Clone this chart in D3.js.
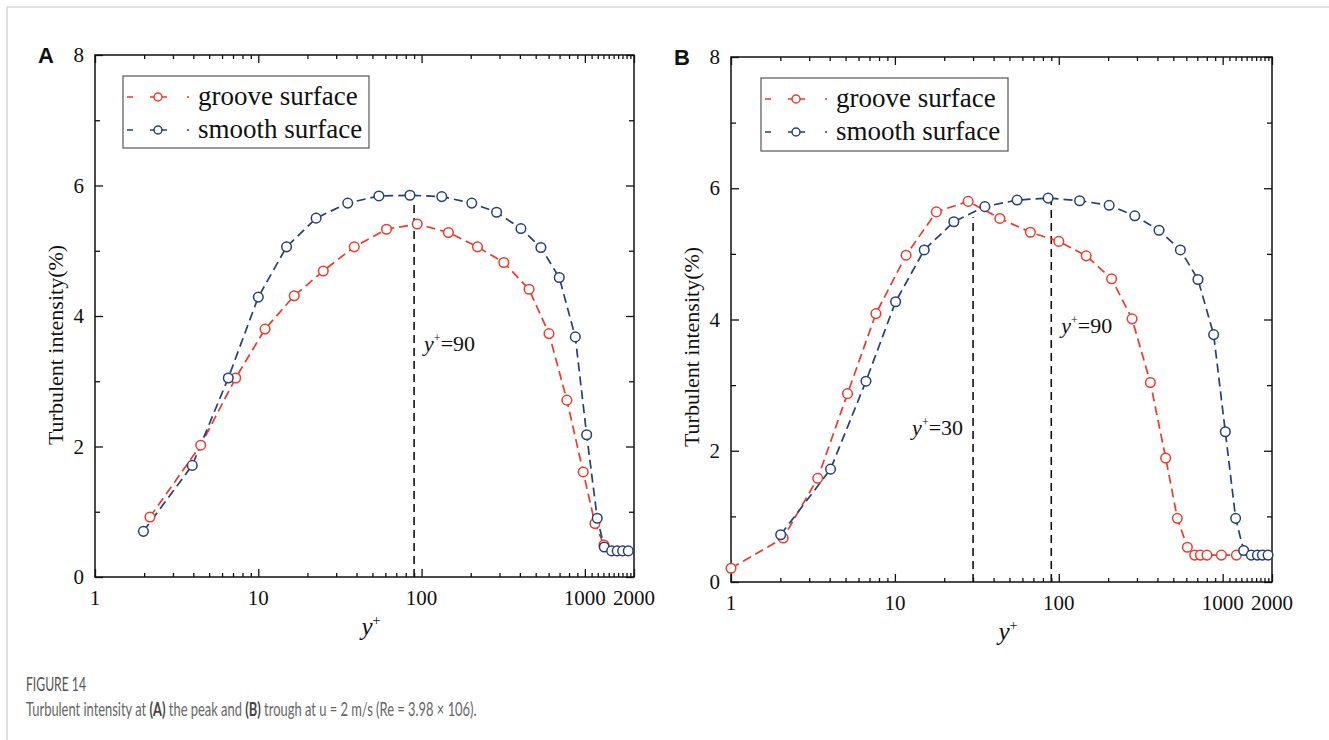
<!DOCTYPE html>
<html>
<head>
<meta charset="utf-8">
<script src="https://cdn.jsdelivr.net/npm/d3@7"></script>
<style>
  body { margin: 0; background: #fff; }
  svg text { fill: #111; }
</style>
</head>
<body>
<div id="dataviz"></div>
<script>
// data: [y+, turbulent intensity %]
var grooveA = [[2.17,0.92],[4.44,2.02],[7.27,3.05],[11.0,3.80],[16.6,4.31],[25.0,4.69],[38.7,5.06],[61,5.33],
  [94,5.41],[146,5.28],[220,5.06],[319,4.82],[455,4.41],[603,3.73],[776,2.71],[977,1.61],[1153,0.82],[1309,0.49]];
var smoothA = [[1.98,0.70],[3.94,1.71],[6.55,3.05],[10,4.29],[14.9,5.06],[22.6,5.50],[35.3,5.73],[54.8,5.84],
  [84.9,5.85],[133,5.83],[203,5.73],[288,5.59],[406,5.34],[538,5.05],[697,4.59],[874,3.68],[1026,2.18],
  [1191,0.90],[1315,0.46],[1459,0.40],[1578,0.40],[1703,0.40],[1845,0.40]];

var grooveB = [[1.0,0.21],[2.08,0.67],[3.38,1.58],[5.14,2.87],[7.66,4.09],[11.7,4.98],[17.9,5.64],[28,5.80],
  [43.7,5.54],[67.1,5.33],[100,5.19],[147,4.97],[210,4.62],[280,4.01],[362,3.04],[449,1.89],[529,0.97],
  [609,0.53],[675,0.41],[731,0.41],[802,0.41],[982,0.41],[1213,0.41]];
var smoothB = [[2.01,0.72],[4.05,1.72],[6.66,3.06],[10.1,4.27],[15.1,5.06],[22.9,5.49],[35.4,5.72],[55.7,5.82],
  [86.1,5.85],[134,5.81],[203,5.74],[291,5.58],[409,5.36],[552,5.06],[707,4.61],[881,3.77],[1038,2.29],
  [1200,0.97],[1343,0.48],[1495,0.41],[1629,0.41],[1747,0.41],[1892,0.41]];

// vertical reference lines: y+ value and height of the dashed line
var refA = [{x:90, top:5.70, label:"90", lx:90, ly:3.46, side:"right"}];
var refB = [{x:30, top:5.56, label:"30", lx:30, ly:2.24, side:"left"},
            {x:90, top:5.87, label:"90", lx:90, ly:3.80, side:"right"}];

var xTickLabels = [1, 10, 100, 1000, 2000];
var yTickLabels = [0, 2, 4, 6, 8];
var yMinorTicks = [1, 3, 5, 7];
var seriesNames = ["groove surface", "smooth surface"];
var seriesColors = ["#f0392b", "#243f7a"];

// minor log ticks (Origin style, 100-step between 1000 and 2000)
var xMinorTicks = [];
[1, 10, 100].forEach(function(d){
  for (var k = 2; k <= 9; k++) xMinorTicks.push(k*d);
});
for (var k = 11; k <= 19; k++) xMinorTicks.push(k*100);

var svg = d3.select("#dataviz").append("svg")
  .attr("width", 1329).attr("height", 740);

// page frame lines
svg.append("line").attr("x1", 7).attr("x2", 1329).attr("y1", 7).attr("y2", 7)
  .attr("stroke", "#d6d6d6").attr("stroke-width", 1.5);
svg.append("line").attr("x1", 7).attr("x2", 7).attr("y1", 7).attr("y2", 740)
  .attr("stroke", "#d6d6d6").attr("stroke-width", 1.5);

var serif = "'Liberation Serif', 'Times New Roman', serif";

function drawPanel(p) {
  var x = d3.scaleLog().domain([1, 2000]).range([p.left, p.right]);
  var y = d3.scaleLinear().domain([0, 8]).range([p.bottom, p.top]);
  var g = svg.append("g");

  // panel letter
  g.append("text").attr("x", p.left - 57).attr("y", p.top + 8)
    .attr("font-family", "'Liberation Sans', Arial, sans-serif")
    .attr("font-weight", "bold").attr("font-size", 22).text(p.label);

  // frame
  g.append("rect").attr("x", p.left).attr("y", p.top)
    .attr("width", p.right - p.left).attr("height", p.bottom - p.top)
    .attr("fill", "none").attr("stroke", "#111").attr("stroke-width", 1.5);

  // axes with inward ticks
  var axB = d3.axisBottom(x).tickValues(xTickLabels).tickSize(-8).tickFormat("");
  var axBm = d3.axisBottom(x).tickValues(xMinorTicks).tickSize(-4).tickFormat("");
  var axT = d3.axisTop(x).tickValues(xTickLabels).tickSize(-8).tickFormat("");
  var axTm = d3.axisTop(x).tickValues(xMinorTicks).tickSize(-4).tickFormat("");
  var axL = d3.axisLeft(y).tickValues(yTickLabels).tickSize(-8).tickFormat("");
  var axLm = d3.axisLeft(y).tickValues(yMinorTicks).tickSize(-5).tickFormat("");
  var axR = d3.axisRight(y).tickValues(yTickLabels).tickSize(-8).tickFormat("");
  var axRm = d3.axisRight(y).tickValues(yMinorTicks).tickSize(-5).tickFormat("");

  [[axB, "translate(0," + p.bottom + ")"], [axBm, "translate(0," + p.bottom + ")"],
   [axT, "translate(0," + p.top + ")"], [axTm, "translate(0," + p.top + ")"],
   [axL, "translate(" + p.left + ",0)"], [axLm, "translate(" + p.left + ",0)"],
   [axR, "translate(" + p.right + ",0)"], [axRm, "translate(" + p.right + ",0)"]
  ].forEach(function(a){
    var ag = g.append("g").attr("transform", a[1]).call(a[0]);
    ag.select(".domain").remove();
    ag.selectAll("line").attr("stroke", "#111").attr("stroke-width", 1.3);
  });

  // tick labels
  g.selectAll(".xlab").data(xTickLabels).enter().append("text")
    .attr("x", function(d){ return x(d); })
    .attr("y", p.bottom + 28)
    .attr("text-anchor", "middle")
    .attr("font-family", serif).attr("font-size", 21)
    .text(function(d){ return d; });
  g.selectAll(".ylab").data(yTickLabels).enter().append("text")
    .attr("x", p.left - 11)
    .attr("y", function(d){ return y(d) + 7; })
    .attr("text-anchor", "end")
    .attr("font-family", serif).attr("font-size", 21)
    .text(function(d){ return d; });

  // axis titles
  g.append("text")
    .attr("transform", "translate(" + (p.left - 32) + "," + (p.top + 290) + ") rotate(-90)")
    .attr("text-anchor", "middle")
    .attr("font-family", serif).attr("font-size", 22)
    .text("Turbulent intensity(%)");
  var xt = g.append("text")
    .attr("x", (p.left + p.right) / 2 - 3).attr("y", p.bottom + 58)
    .attr("font-family", serif).attr("font-size", 25);
  xt.append("tspan").attr("font-style", "italic").text("y");
  xt.append("tspan").attr("font-size", 14).attr("dy", -10).text("+");

  // reference dashed lines
  p.refs.forEach(function(r){
    g.append("line")
      .attr("x1", x(r.x)).attr("x2", x(r.x))
      .attr("y1", y(0)).attr("y2", y(r.top))
      .attr("stroke", "#111").attr("stroke-width", 1.6)
      .attr("stroke-dasharray", "8,5");
    var t = g.append("text")
      .attr("x", r.side === "right" ? x(r.lx) + 10 : x(r.lx) - 10)
      .attr("y", y(r.ly))
      .attr("text-anchor", r.side === "right" ? "start" : "end")
      .attr("font-family", serif).attr("font-size", 22);
    t.append("tspan").attr("font-style", "italic").text("y");
    t.append("tspan").attr("font-size", 12).attr("dy", -9).text("+");
    t.append("tspan").attr("dy", 9).text("=" + r.label);
  });

  // series
  var line = d3.line().x(function(d){ return x(d[0]); }).y(function(d){ return y(d[1]); });
  [p.groove, p.smooth].forEach(function(s, i){
    g.append("path").datum(s)
      .attr("d", line).attr("fill", "none")
      .attr("stroke", seriesColors[i]).attr("stroke-width", 1.7)
      .attr("stroke-dasharray", "9,5");
  });
  [p.groove, p.smooth].forEach(function(s, i){
    g.selectAll(".pt" + i).data(s).enter().append("circle")
      .attr("cx", function(d){ return x(d[0]); })
      .attr("cy", function(d){ return y(d[1]); })
      .attr("r", 4.8)
      .attr("fill", "#fff")
      .attr("stroke", seriesColors[i]).attr("stroke-width", 1.5);
  });

  // legend
  var lg = g.append("g").attr("transform", "translate(" + p.lx + "," + p.ly + ")");
  lg.append("rect").attr("width", p.lw).attr("height", p.lh)
    .attr("fill", "#fff").attr("stroke", "#555").attr("stroke-width", 1.2);
  seriesNames.forEach(function(name, i){
    var cy = 21 + i * 33;
    lg.append("line").attr("x1", 4).attr("x2", 67).attr("y1", cy).attr("y2", cy)
      .attr("stroke", seriesColors[i]).attr("stroke-width", 1.7)
      .attr("stroke-dasharray", "6,17,17,20,2,20");
    lg.append("circle").attr("cx", 35).attr("cy", cy).attr("r", 4)
      .attr("fill", "#fff").attr("stroke", seriesColors[i]).attr("stroke-width", 1.5);
    lg.append("text").attr("x", 75).attr("y", cy + 8)
      .attr("font-family", serif).attr("font-size", 27)
      .text(name);
  });
}

drawPanel({label:"A", left:95, right:634, top:55, bottom:577,
  groove:grooveA, smooth:smoothA, refs:refA, lx:123, ly:76, lw:246, lh:72});
drawPanel({label:"B", left:731, right:1272, top:57, bottom:582,
  groove:grooveB, smooth:smoothB, refs:refB, lx:761, ly:78, lw:247, lh:73});

// caption, squeezed horizontally to the narrow journal font width
function fitWidth(sel, x0, target) {
  var w = sel.node().getComputedTextLength();
  sel.attr("transform", "translate(" + x0 + ",0) scale(" + (target / w) + ",1)");
}
var fig = svg.append("text").attr("x", 0).attr("y", 691)
  .attr("font-family", "Lato, 'Open Sans', sans-serif").attr("font-size", 19)
  .style("fill", "#555")
  .text("FIGURE 14");
fitWidth(fig, 26, 60);
var cap = svg.append("text").attr("x", 0).attr("y", 716)
  .attr("font-family", "Lato, 'Open Sans', sans-serif").attr("font-size", 18.5)
  .style("fill", "#666");
cap.append("tspan").text("Turbulent intensity at ");
cap.append("tspan").attr("font-weight", "bold").style("fill", "#444").text("(A)");
cap.append("tspan").text(" the peak and ");
cap.append("tspan").attr("font-weight", "bold").style("fill", "#444").text("(B)");
cap.append("tspan").text(" trough at u = 2 m/s (Re = 3.98 \u00d7 106).");
fitWidth(cap, 26, 451);
</script>
</body>
</html>
